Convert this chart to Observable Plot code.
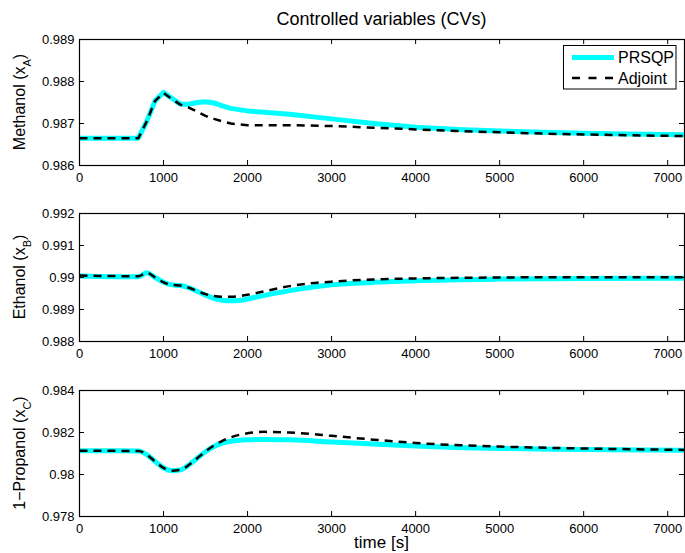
<!DOCTYPE html>
<html>
<head>
<meta charset="utf-8">
<script src="https://cdn.jsdelivr.net/npm/d3@7"></script>
<script src="https://cdn.jsdelivr.net/npm/@observablehq/plot@0.6"></script>
<style>
  html, body { margin: 0; padding: 0; background: white; }
  #wrap { position: relative; width: 685px; height: 553px; background: white; overflow: hidden; }
  #wrap svg { position: absolute; left: 0; }
</style>
</head>
<body>
<div id="wrap"></div>
<script>
// ---------- data ----------
const xTicks = [0, 1000, 2000, 3000, 4000, 5000, 6000, 7000];
const seriesNames = ["PRSQP", "Adjoint"];

const tA = [0, 700, 800, 900, 1000, 1100, 1200, 1300, 1400, 1500, 1600, 1700, 1800, 2000, 2200, 2500, 3000, 3500, 4000, 4500, 5000, 5500, 6000, 6500, 7200];
const prsqpA = [0.98665, 0.98665, 0.98705, 0.98754, 0.98774, 0.98760, 0.98746, 0.98746, 0.98750, 0.98752, 0.98749, 0.98742, 0.98736, 0.98730, 0.98727, 0.98722, 0.98711, 0.98700, 0.98691, 0.98686, 0.98682, 0.98679, 0.98677, 0.98675, 0.98673];
const adjointA = [0.98665, 0.98665, 0.98705, 0.98754, 0.98773, 0.98758, 0.98745, 0.98738, 0.98728, 0.98718, 0.98711, 0.98705, 0.98700, 0.98696, 0.98696, 0.98696, 0.98694, 0.98690, 0.98686, 0.98682, 0.98679, 0.98676, 0.98674, 0.98672, 0.98670];
const yTicksA = [0.986, 0.987, 0.988, 0.989];

const tB = [0, 700, 800, 900, 1000, 1100, 1200, 1300, 1400, 1500, 1600, 1700, 1800, 1900, 2000, 2200, 2500, 2800, 3000, 3500, 4000, 5000, 6000, 7200];
const prsqpB = [0.99005, 0.99002, 0.99015, 0.99000, 0.98985, 0.98977, 0.98975, 0.98968, 0.98957, 0.98945, 0.98935, 0.98929, 0.98927, 0.98928, 0.98933, 0.98944, 0.98959, 0.98971, 0.98977, 0.98985, 0.98990, 0.98995, 0.98997, 0.98998];
const adjointB = [0.99006, 0.99004, 0.99015, 0.99000, 0.98985, 0.98977, 0.98975, 0.98968, 0.98958, 0.98948, 0.98942, 0.98940, 0.98940, 0.98942, 0.98946, 0.98957, 0.98973, 0.98983, 0.98987, 0.98994, 0.98997, 0.99000, 0.99001, 0.99001];
const yTicksB = [0.988, 0.989, 0.990, 0.991, 0.992];

const tC = [0, 700, 800, 900, 1000, 1100, 1200, 1300, 1400, 1500, 1600, 1700, 1800, 2000, 2200, 2500, 3000, 3500, 4000, 5000, 6000, 7200];
const prsqpC = [0.98113, 0.98112, 0.98095, 0.98062, 0.98032, 0.98018, 0.98022, 0.98045, 0.98077, 0.98108, 0.98133, 0.98150, 0.98158, 0.98165, 0.98167, 0.98165, 0.98155, 0.98145, 0.98136, 0.98124, 0.98119, 0.98115];
const adjointC = [0.98113, 0.98112, 0.98095, 0.98062, 0.98032, 0.98018, 0.98022, 0.98045, 0.98077, 0.98110, 0.98138, 0.98160, 0.98177, 0.98196, 0.98203, 0.98200, 0.98184, 0.98166, 0.98150, 0.98133, 0.98124, 0.98117];
const yTicksC = [0.978, 0.980, 0.982, 0.984];

// ---------- drawing ----------
const FONT = "'Liberation Sans', Arial, Helvetica, sans-serif";
const W = 685, ML = 79, MR = 1;
const fmtY = d => String(+d.toFixed(3));
const fmtX = d => String(d);
const wrap = document.getElementById("wrap");

function panel({t, p, a, yTicks, top, mt, ih, mb, curve, label, sub}) {
  const rowsP = t.map((x, i) => ({x, y: p[i]}));
  const rowsA = t.map((x, i) => ({x, y: a[i]}));
  const iw = W - ML - MR;
  const svg = Plot.plot({
    width: W, height: mt + ih + mb,
    marginLeft: ML, marginRight: MR, marginTop: mt, marginBottom: mb,
    style: {fontFamily: FONT, fontSize: "13px", color: "black", background: "transparent", overflow: "visible"},
    x: {domain: [0, 7200]},
    y: {domain: [yTicks[0], yTicks[yTicks.length - 1]]},
    marks: [
      Plot.line(rowsP, {x: "x", y: "y", stroke: "#00ffff", strokeWidth: 5, curve, clip: true, strokeLinecap: "butt"}),
      Plot.line(rowsA, {x: "x", y: "y", stroke: "black", strokeWidth: 2.5, strokeDasharray: "8,6", curve, clip: true, strokeLinecap: "butt"}),
      Plot.tickX(xTicks, {x: d => d, insetTop: ih - 5, stroke: "black", strokeWidth: 1}),
      Plot.tickX(xTicks, {x: d => d, insetBottom: ih - 5, stroke: "black", strokeWidth: 1}),
      Plot.tickY(yTicks, {y: d => d, insetRight: iw - 5, stroke: "black", strokeWidth: 1}),
      Plot.tickY(yTicks, {y: d => d, insetLeft: iw - 5, stroke: "black", strokeWidth: 1}),
      Plot.frame({stroke: "black", strokeWidth: 1.2}),
      Plot.axisX(xTicks, {tickSize: 0, tickPadding: 7, label: null, tickFormat: fmtX, fontSize: 13, fill: "black"}),
      Plot.axisY(yTicks, {tickSize: 0, tickPadding: 5, label: null, tickFormat: fmtY, fontSize: 13, fill: "black"})
    ]
  });
  svg.style.top = top + "px";
  wrap.appendChild(svg);
  // y-axis label with subscript
  const s = d3.select(svg);
  const cy = mt + ih / 2;
  const tx = s.append("text")
    .attr("transform", `translate(25,${cy}) rotate(-90)`)
    .attr("text-anchor", "middle")
    .attr("font-family", FONT).attr("font-size", 16).attr("fill", "black");
  tx.append("tspan").text(label + " (x");
  tx.append("tspan").attr("font-size", 11).attr("dy", 6).text(sub);
  tx.append("tspan").attr("dy", -6).text(")");
  return s;
}

const s1 = panel({t: tA, p: prsqpA, a: adjointA, yTicks: yTicksA, top: 0, mt: 39, ih: 126, mb: 24, curve: "linear", label: "Methanol", sub: "A"});
const s2 = panel({t: tB, p: prsqpB, a: adjointB, yTicks: yTicksB, top: 189, mt: 24, ih: 128, mb: 24, curve: "monotone-x", label: "Ethanol", sub: "B"});
const s3 = panel({t: tC, p: prsqpC, a: adjointC, yTicks: yTicksC, top: 365, mt: 25, ih: 126, mb: 37, curve: "monotone-x", label: "1\u2212Propanol", sub: "C"});

// title
s1.append("text").attr("x", (ML + W - MR) / 2).attr("y", 25)
  .attr("text-anchor", "middle").attr("font-family", FONT).attr("font-size", 18).attr("fill", "black")
  .text("Controlled variables (CVs)");

// x label
s3.append("text").attr("x", (ML + W - MR) / 2).attr("y", 182.5)
  .attr("text-anchor", "middle").attr("font-family", FONT).attr("font-size", 17).attr("fill", "black")
  .text("time [s]");

// legend
const lg = s1.append("g");
lg.append("rect").attr("x", 563.5).attr("y", 45.5).attr("width", 112.5).attr("height", 43.5)
  .attr("fill", "white").attr("stroke", "black").attr("stroke-width", 1);
const styles = [
  {stroke: "#00ffff", w: 5, dash: null},
  {stroke: "black", w: 2.5, dash: "8,8.5"}
];
seriesNames.forEach((name, i) => {
  const y = 57.5 + i * 20.5;
  const ln = lg.append("line").attr("x1", 572).attr("x2", 614).attr("y1", y).attr("y2", y)
    .attr("stroke", styles[i].stroke).attr("stroke-width", styles[i].w);
  if (styles[i].dash) ln.attr("stroke-dasharray", styles[i].dash);
  lg.append("text").attr("x", 618).attr("y", y + 5.5).attr("text-anchor", "start")
    .attr("font-family", FONT).attr("font-size", 16).attr("fill", "black").text(name);
});
</script>
</body>
</html>
